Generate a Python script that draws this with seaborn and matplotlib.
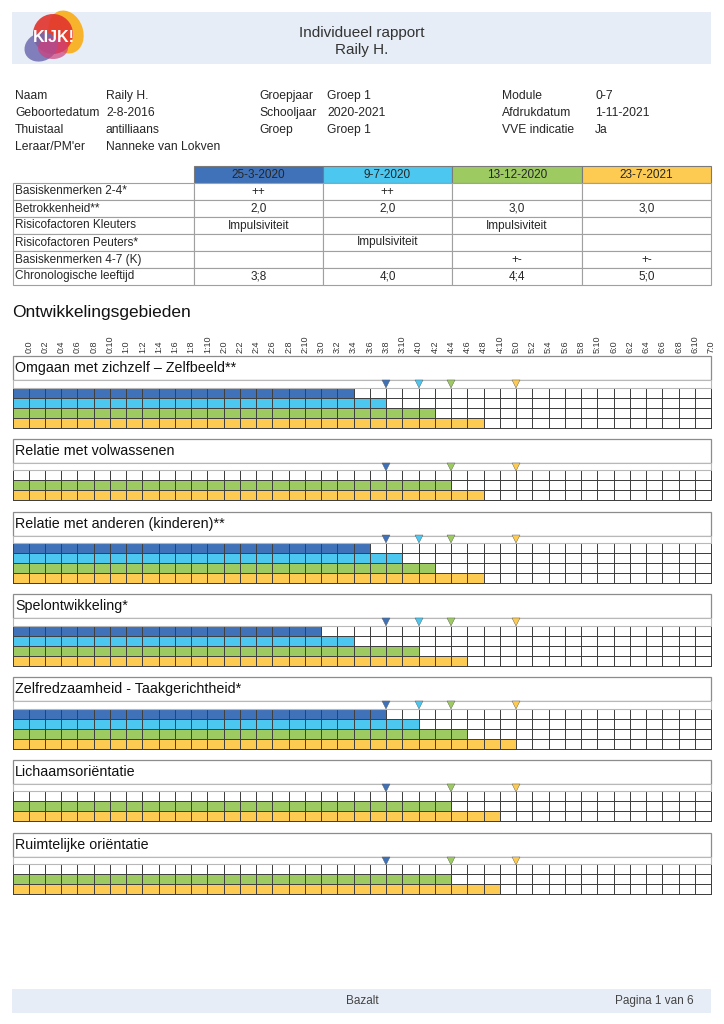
# Individueel rapport - KIJK! ontwikkelingsgebieden (recreated)
import numpy as np
import matplotlib
matplotlib.use("Agg")
import matplotlib.pyplot as plt
from matplotlib.patches import Rectangle, Ellipse
from matplotlib.colors import ListedColormap
import seaborn as sns

# =========================
# DATA
# =========================
report_title = "Individueel rapport"
child_name = "Raily H."

info_left_labels = ["Naam", "Geboortedatum", "Thuistaal", "Leraar/PM'er"]
info_left_values = ["Raily H.", "2-8-2016", "antilliaans", "Nanneke van Lokven"]
info_mid_labels = ["Groepjaar", "Schooljaar", "Groep"]
info_mid_values = ["Groep 1", "2020-2021", "Groep 1"]
info_right_labels = ["Module", "Afdrukdatum", "VVE indicatie"]
info_right_values = ["0-7", "1-11-2021", "Ja"]

period_dates = ["25-3-2020", "9-7-2020", "13-12-2020", "23-7-2021"]
period_colors = ["#3F72B9", "#4CC7EF", "#9DCB62", "#FDCB52"]
chron_age_months = [44, 48, 52, 60]

table_rows = ["Basiskenmerken 2-4*", "Betrokkenheid**", "Risicofactoren Kleuters",
              "Risicofactoren Peuters*", "Basiskenmerken 4-7 (K)", "Chronologische leeftijd"]
col_period1 = ["++", "2,0", "Impulsiviteit", "", "", "3;8"]
col_period2 = ["++", "2,0", "", "Impulsiviteit", "", "4;0"]
col_period3 = ["", "3,0", "Impulsiviteit", "", "+-", "4;4"]
col_period4 = ["", "3,0", "", "", "+-", "5;0"]

areas = ["Omgaan met zichzelf \u2013 Zelfbeeld**", "Relatie met volwassenen",
         "Relatie met anderen (kinderen)**", "Spelontwikkeling*",
         "Zelfredzaamheid - Taakgerichtheid*", "Lichaamsori\u00ebntatie",
         "Ruimtelijke ori\u00ebntatie"]
# level reached in months per period (None = no observation, nan = observed, no level)
nan = np.nan
level_period1 = [40, nan, 42, 36, 44, nan, nan]
level_period2 = [44, None, 46, 40, 48, None, None]
level_period3 = [50, 52, 50, 48, 54, 52, 52]
level_period4 = [56, 56, 56, 54, 60, 58, 58]

age_ticks = list(range(0, 85, 2))
age_labels = [f"{m // 12}:{m % 12}" for m in age_ticks]

# =========================
# STYLE / LAYOUT
# =========================
sns.set_style("white")
plt.rcParams['font.family'] = ['Liberation Sans', 'DejaVu Sans']
TXT = "#262626"

W, H = 724, 1024
fig = plt.figure(figsize=(W / 100, H / 100), dpi=100)

bg = fig.add_axes([0, 0, 1, 1])
bg.set_xlim(0, W)
bg.set_ylim(H, 0)
bg.axis("off")

BAND = "#E6EDF6"

# header band + logo
bg.add_patch(Rectangle((12, 12), 699, 52, facecolor=BAND, edgecolor="none"))
bg.add_patch(Ellipse((66, 32), 34, 44, angle=-20, facecolor="#F8B32D", edgecolor="none"))
bg.add_patch(Ellipse((53, 34), 40, 40, angle=10, facecolor="#E2362F", edgecolor="none", alpha=0.92))
bg.add_patch(Ellipse((41, 47), 34, 28, angle=-25, facecolor="#6E6CB2", edgecolor="none", alpha=0.85))
bg.add_patch(Ellipse((53, 48), 30, 22, angle=0, facecolor="#CF3F7C", edgecolor="none", alpha=0.7))
bg.text(54, 38, "KIJK!", ha="center", va="center", color="white", fontsize=11.5,
        fontweight="bold")

bg.text(362, 33, report_title, ha="center", va="center", fontsize=11, color="#333333")
bg.text(362, 50, child_name, ha="center", va="center", fontsize=11, color="#333333")

# info block
for i, (lab, val) in enumerate(zip(info_left_labels, info_left_values)):
    bg.text(15, 96 + 17 * i, lab, va="center", fontsize=8.7, color=TXT)
    bg.text(106, 96 + 17 * i, val, va="center", fontsize=8.7, color=TXT)
for i, (lab, val) in enumerate(zip(info_mid_labels, info_mid_values)):
    bg.text(259, 96 + 17 * i, lab, va="center", fontsize=8.7, color=TXT)
    bg.text(327, 96 + 17 * i, val, va="center", fontsize=8.7, color=TXT)
for i, (lab, val) in enumerate(zip(info_right_labels, info_right_values)):
    bg.text(502, 96 + 17 * i, lab, va="center", fontsize=8.7, color=TXT)
    bg.text(595, 96 + 17 * i, val, va="center", fontsize=8.7, color=TXT)

# observation table
tab_x = [12.5, 194, 323, 452, 582, 711]
head_top, row_h_tab = 166, 17
columns = [col_period1, col_period2, col_period3, col_period4]
for c, (date, col) in enumerate(zip(period_dates, period_colors)):
    x0, x1 = tab_x[c + 1], tab_x[c + 2]
    bg.add_patch(Rectangle((x0, head_top), x1 - x0, row_h_tab, facecolor=col,
                           edgecolor="#7a7a7a", lw=0.8))
    bg.text((x0 + x1) / 2, head_top + row_h_tab / 2, date, ha="center", va="center",
            fontsize=8.5, color=TXT)
for r, lab in enumerate(table_rows):
    y0 = head_top + row_h_tab * (r + 1)
    for c in range(5):
        bg.add_patch(Rectangle((tab_x[c], y0), tab_x[c + 1] - tab_x[c], row_h_tab,
                               facecolor="white", edgecolor="#a0a0a0", lw=0.8))
    bg.text(15, y0 + row_h_tab / 2, lab, va="center", fontsize=8.5, color=TXT)
    for c, col in enumerate(columns):
        bg.text((tab_x[c + 1] + tab_x[c + 2]) / 2, y0 + row_h_tab / 2, col[r],
                ha="center", va="center", fontsize=8.5, color=TXT)

bg.text(12, 312, "Ontwikkelingsgebieden", va="center", fontsize=12.5, color="#111111")

# footer band
bg.add_patch(Rectangle((12, 989), 699, 24, facecolor=BAND, edgecolor="none"))
bg.text(362, 1001, "Bazalt", ha="center", va="center", fontsize=8.5, color="#444444")
bg.text(694, 1001, "Pagina 1 van 6", ha="right", va="center", fontsize=8.5, color="#444444")

# =========================
# DEVELOPMENT GRIDS
# =========================
GRID_L, GRID_R = 12.5, 711
N_CELLS = len(age_ticks)
ROW_PX = 10.0
TITLE_U, MARK_U = 2.4, 0.75
HEAD_U = TITLE_U + MARK_U
GAP_PX = 11.3

cell_cmap = ListedColormap(["white"] + period_colors)
levels = [level_period1, level_period2, level_period3, level_period4]


def draw_area(top_px, a, show_ticks):
    rows = [(k, levels[k][a]) for k in range(4) if levels[k][a] is not None]
    n = len(rows)
    height_px = ROW_PX * (n + HEAD_U)
    ax = fig.add_axes([GRID_L / W, 1 - (top_px + height_px) / H,
                       (GRID_R - GRID_L) / W, height_px / H])

    mat = np.zeros((n, N_CELLS))
    for r, (k, lv) in enumerate(rows):
        if not np.isnan(lv):
            filled = age_ticks.index(int(lv)) + 1
            mat[r, :filled] = k + 1

    sns.heatmap(mat, ax=ax, cmap=cell_cmap, vmin=-0.5, vmax=4.5, cbar=False,
                linewidths=0.7, linecolor="#404040",
                xticklabels=False, yticklabels=False)
    ax.collections[0].set_clip_on(False)
    ax.set_xlim(0, N_CELLS)
    ax.set_ylim(n, -HEAD_U)

    # title box
    ax.add_patch(Rectangle((0, -HEAD_U), N_CELLS, TITLE_U, facecolor="white",
                           edgecolor="#8c8c8c", lw=0.9, clip_on=False))
    ax.text(0.15, -HEAD_U + TITLE_U / 2, areas[a], va="center", fontsize=10.3,
            color="#111111")
    # marker row
    ax.add_patch(Rectangle((0, -MARK_U), N_CELLS, MARK_U, facecolor="white",
                           edgecolor="#b8b8b8", lw=0.8, clip_on=False))
    for k, lv in rows:
        ax.plot(age_ticks.index(chron_age_months[k]) + 1, -MARK_U * 0.5, marker="v",
                markersize=5.5, color=period_colors[k], markeredgecolor="#555555",
                markeredgewidth=0.3, zorder=5, clip_on=False)

    if show_ticks:
        ax.set_xticks(np.arange(1, N_CELLS + 1))
        ax.set_xticklabels(age_labels, rotation=90, fontsize=6.5, color="#333333")
        ax.tick_params(axis="x", top=True, labeltop=True, bottom=False,
                       labelbottom=False, length=0, pad=2)
    return top_px + height_px + GAP_PX


top = 356
for a in range(len(areas)):
    top = draw_area(top, a, a == 0)

fig.savefig("out.png", dpi=100)
